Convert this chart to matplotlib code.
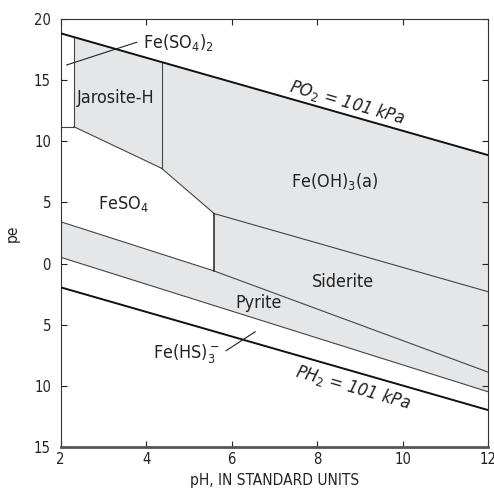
import matplotlib
matplotlib.use("Agg")
import matplotlib.pyplot as plt
from matplotlib import font_manager as fm

# pick a narrow sans if one is installed
fonts = fm.fontManager.ttflist
names = {f.name for f in fonts}
if 'Liberation Sans Narrow' in names:
    fam, stretch, k = 'Liberation Sans Narrow', 'normal', 1.0
elif any(f.name == 'DejaVu Sans' and f.stretch == 'condensed' for f in fonts):
    fam, stretch, k = 'DejaVu Sans', 'condensed', 0.92
else:
    fam, stretch, k = 'Liberation Sans', 'normal', 0.84

plt.rcParams['font.family'] = [fam, 'DejaVu Sans']
plt.rcParams['font.stretch'] = stretch
plt.rcParams['mathtext.fontset'] = 'custom'
plt.rcParams['mathtext.rm'] = fam
plt.rcParams['mathtext.it'] = fam + ':italic'

# water stability limits
ph_water = [2, 12]
pe_o2 = [18.85, 8.88]
pe_h2 = [-1.95, -12.0]

# field boundaries (pH, pe)
ph_fes2 = [2, 2.31]
pe_fes2 = [11.2, 11.2]
ph_jar_left = [2.31, 2.31]
pe_jar_left = [11.2, 18.54]
ph_jar_low = [2.31, 4.36]
pe_jar_low = [11.2, 7.8]
ph_jar_right = [4.36, 4.36]
pe_jar_right = [7.8, 16.48]
ph_feso4_top = [4.36, 5.59]
pe_feso4_top = [7.8, 4.09]
ph_feso4_right = [5.59, 5.59]
pe_feso4_right = [4.09, -0.61]
ph_sid_top = [5.59, 12]
pe_sid_top = [4.09, -2.31]
ph_pyr_top = [2, 5.59, 12]
pe_pyr_top = [3.42, -0.61, -8.89]
ph_pyr_low = [2, 12]
pe_pyr_low = [0.51, -10.5]

yticks = [20, 15, 10, 5, 0, -5, -10, -15]
ytick_labels = ['20', '15', '10', '5', '0', '5', '10', '15']
xticks = [2, 4, 6, 8, 10, 12]

fig = plt.figure(figsize=(4.94, 4.92), dpi=100)
ax = fig.add_axes([0.1229, 0.0921, 0.865, 0.8687])

# grey stability fields (solids), built from the boundaries
poly_ph = (ph_jar_left + [ph_water[1], 12] + ph_pyr_low[::-1] + ph_pyr_top[:2]
           + ph_feso4_right[1:] + ph_jar_low[1:][::-1] + ph_jar_low[:1])
poly_pe = (pe_jar_left + [pe_o2[1], pe_pyr_low[1]] + pe_pyr_low[::-1] + pe_pyr_top[:2]
           + pe_feso4_right[:1] + pe_jar_low[1:][::-1] + pe_jar_low[:1])
ax.fill(poly_ph, poly_pe, color='#e5e6e7', lw=0, zorder=1)

thin = dict(color='#444444', lw=0.8, zorder=2)
for xs, ys in [(ph_fes2, pe_fes2), (ph_jar_left, pe_jar_left), (ph_jar_low, pe_jar_low),
               (ph_jar_right, pe_jar_right), (ph_feso4_top, pe_feso4_top),
               (ph_sid_top, pe_sid_top), (ph_pyr_top, pe_pyr_top), (ph_pyr_low, pe_pyr_low)]:
    ax.plot(xs, ys, **thin)
ax.plot(ph_feso4_right, pe_feso4_right, color='#222222', lw=1.1, zorder=2)

ax.plot(ph_water, pe_o2, color='#111111', lw=1.4, zorder=3)
ax.plot(ph_water, pe_h2, color='#111111', lw=1.4, zorder=3)

# labels
fs = 14 * k
lab = dict(fontsize=fs, color='#222222', ha='center', va='center', zorder=4)
ax.text(3.28, 13.55, 'Jarosite-H', **lab)
ax.text(3.47, 4.87, 'FeSO$_4$', **lab)
ax.text(8.40, 6.68, 'Fe(OH)$_3$(a)', **lab)
ax.text(8.61, -1.49, 'Siderite', **lab)
ax.text(6.64, -3.2, 'Pyrite', **lab)
ax.text(4.95, -7.33, 'Fe(HS)$_3^-$', **lab)
ax.text(3.93, 18.1, 'Fe(SO$_4$)$_2$', fontsize=fs, color='#222222', ha='left', va='center')
ax.plot([2.14, 3.78], [16.26, 18.12], color='#222222', lw=0.8, zorder=4)
ax.plot([5.87, 6.55], [-7.14, -5.59], color='#222222', lw=0.8, zorder=4)

ax.text(8.70, 13.23, r'PO$_{\mathit{2}}$ = 101 kPa', fontsize=fs, style='italic',
        color='#222222', ha='center', va='center', rotation=-16, rotation_mode='anchor')
ax.text(8.84, -10.12, r'PH$_{\mathit{2}}$ = 101 kPa', fontsize=fs, style='italic',
        color='#222222', ha='center', va='center', rotation=-16, rotation_mode='anchor')

ax.set_xlim(2, 12)
ax.set_ylim(-15, 20)
ax.set_xticks(xticks)
ax.set_yticks(yticks)
ax.set_yticklabels(ytick_labels)
ax.tick_params(direction='in', top=True, right=True, length=4, width=0.8,
               labelsize=11.5 * k, colors='#222222')
ax.tick_params(axis='y', pad=7)
ax.tick_params(axis='x', pad=4)
for s in ['left', 'top', 'right']:
    ax.spines[s].set_linewidth(0.8)
    ax.spines[s].set_color('#333333')
ax.spines['bottom'].set_linewidth(2)
ax.spines['bottom'].set_color('#555555')

ax.set_xlabel('pH, IN STANDARD UNITS', fontsize=12 * k, color='#222222', labelpad=4)
ax.set_ylabel('pe', fontsize=12 * k, color='#222222', labelpad=10)

fig.savefig('out.png', dpi=100)
